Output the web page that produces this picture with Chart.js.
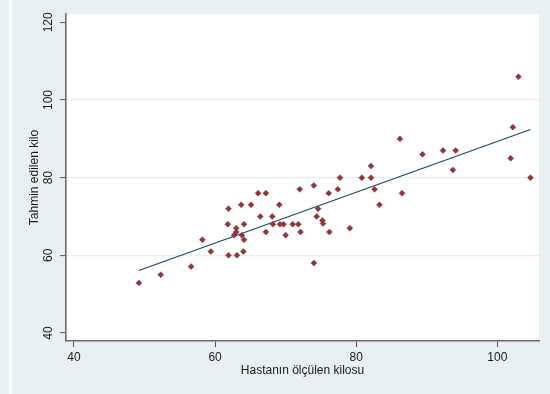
<!DOCTYPE html>
<html>
<head>
<meta charset="utf-8">
<script src="https://cdn.jsdelivr.net/npm/chart.js@4/dist/chart.umd.min.js"></script>
<style>
  html, body { margin: 0; padding: 0; background: #e9f0f2; }
  #wrap { width: 550px; height: 394px; }
</style>
</head>
<body>
<div id="wrap"><canvas id="scatterChart" width="550" height="394"></canvas></div>
<script>
const measuredKg = [
  49.2, 52.3, 56.6, 58.2, 59.4, 61.9, 61.8, 61.9, 63.1, 64.0,
  63.0, 63.0, 62.7, 63.8, 64.1, 64.1, 63.7, 65.1, 66.1, 67.2,
  66.4, 67.2, 68.1, 68.2, 69.1, 69.2, 69.7, 70.0, 71.0, 71.8,
  72.1, 72.0, 74.0, 74.0, 74.6, 74.4, 75.2, 75.3, 76.1, 76.2,
  77.4, 77.7, 79.1, 80.8, 82.1, 82.1, 82.6, 83.3, 86.2, 86.5,
  89.4, 92.3, 94.1, 93.7, 103.0, 102.2, 101.9, 104.7
];
const estimatedKg = [
  52.9, 55.0, 57.1, 64.0, 61.0, 72.0, 68.0, 60.0, 60.0, 61.0,
  67.0, 66.0, 65.2, 65.2, 64.0, 68.0, 73.0, 73.0, 76.0, 76.0,
  70.0, 66.0, 70.0, 68.0, 73.0, 68.0, 68.0, 65.2, 68.0, 68.0,
  66.0, 77.0, 78.0, 58.0, 72.0, 70.0, 69.0, 68.2, 76.0, 66.0,
  77.0, 80.0, 67.0, 80.0, 80.0, 83.0, 77.0, 73.0, 90.0, 76.0,
  86.0, 87.0, 87.0, 82.0, 106.0, 93.0, 85.0, 80.0
];
// fitted line end points as drawn
const fitX = [49.2, 104.7];
const fitY = [56.1, 92.4];

const xTicks = [40, 60, 80, 100];
const yTicks = [40, 60, 80, 100, 120];
const yGridAt = [60, 80, 100];

const xTitle = 'Hastanın ölçülen kilosu';
const yTitle = 'Tahmin edilen kilo';

const FONT = 'Liberation Sans, Arial, sans-serif';

const backdrop = {
  id: 'backdrop',
  beforeDraw(chart) {
    const { ctx, chartArea } = chart;
    ctx.save();
    ctx.fillStyle = '#e9f0f2';
    ctx.fillRect(0, 0, chart.width, chart.height);
    ctx.fillStyle = '#ffffff';
    ctx.fillRect(9, 0, 3, chart.height);
    ctx.fillRect(chartArea.left, chartArea.top, chartArea.right - chartArea.left, chartArea.bottom - chartArea.top);
    ctx.restore();
  },
  afterDraw(chart) {
    // vertical y tick labels, Stata style
    const { ctx } = chart;
    const y = chart.scales.y;
    ctx.save();
    ctx.fillStyle = '#1a1a1a';
    ctx.font = '12px ' + FONT;
    ctx.textAlign = 'center';
    ctx.textBaseline = 'middle';
    yTicks.forEach((v) => {
      ctx.save();
      ctx.translate(49, y.getPixelForValue(v));
      ctx.rotate(-Math.PI / 2);
      ctx.fillText(String(v), 0, 0);
      ctx.restore();
    });
    ctx.restore();
  },
};

const points = measuredKg.map((x, i) => ({ x: x, y: estimatedKg[i] }));
const fitLine = fitX.map((x, i) => ({ x: x, y: fitY[i] }));

new Chart(document.getElementById('scatterChart'), {
  type: 'scatter',
  data: {
    datasets: [
      {
        label: 'fit',
        type: 'line',
        data: fitLine,
        borderColor: '#1a476f',
        borderWidth: 1.2,
        pointRadius: 0,
        fill: false,
        order: 2,
      },
      {
        label: 'kilo',
        data: points,
        pointStyle: 'rectRot',
        pointRadius: 3,
        backgroundColor: '#90353b',
        borderColor: '#90353b',
        borderWidth: 0.5,
        order: 1,
      },
    ],
  },
  options: {
    responsive: false,
    animation: false,
    layout: { padding: { top: 14, right: 11, left: 0, bottom: 0 } },
    plugins: {
      legend: { display: false },
      tooltip: { enabled: false },
    },
    scales: {
      x: {
        type: 'linear',
        min: 38.87,
        max: 105.91,
        afterBuildTicks: (scale) => { scale.ticks = xTicks.map((v) => ({ value: v })); },
        afterFit: (scale) => { scale.height = 53; },
        border: { display: true, color: '#6b6b6b', width: 1.6 },
        grid: {
          drawOnChartArea: false,
          drawTicks: true,
          tickLength: 6,
          tickColor: '#555555',
          tickWidth: 1,
        },
        ticks: {
          color: '#1a1a1a',
          padding: 3,
          maxRotation: 0,
          font: { family: FONT, size: 12 },
        },
        title: {
          display: true,
          text: xTitle,
          color: '#1a1a1a',
          font: { family: FONT, size: 12 },
          padding: { top: 0, bottom: 16 },
        },
      },
      y: {
        type: 'linear',
        min: 37.94,
        max: 122.14,
        afterBuildTicks: (scale) => { scale.ticks = yTicks.map((v) => ({ value: v })); },
        afterFit: (scale) => { scale.width = 66; },
        border: { display: true, color: '#6b6b6b', width: 1.6 },
        grid: {
          color: (ctx) => (ctx.tick && yGridAt.includes(ctx.tick.value) ? '#e6eef0' : 'rgba(0,0,0,0)'),
          lineWidth: 1.2,
          drawTicks: true,
          tickLength: 6,
          tickColor: '#555555',
          tickWidth: 1,
        },
        ticks: { display: false },
        title: {
          display: true,
          text: yTitle,
          color: '#1a1a1a',
          font: { family: FONT, size: 12 },
          padding: { top: 27, bottom: 0 },
        },
      },
    },
  },
  plugins: [backdrop],
});
</script>
</body>
</html>
